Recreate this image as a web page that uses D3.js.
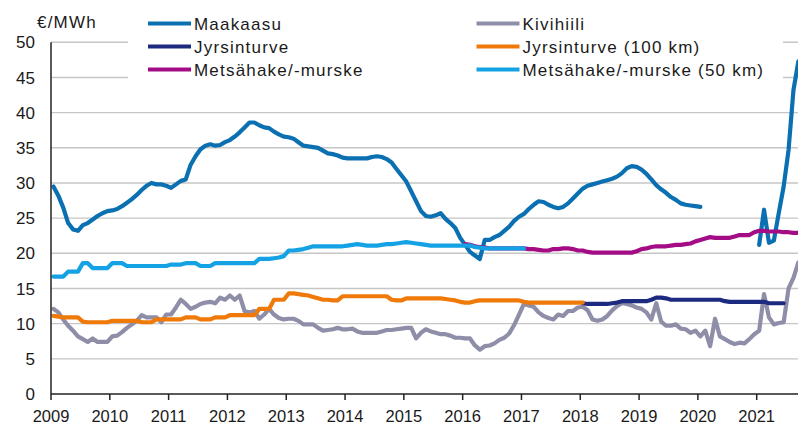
<!DOCTYPE html>
<html>
<head>
<meta charset="utf-8">
<script src="https://cdn.jsdelivr.net/npm/d3@7"></script>
<style>
  body { margin: 0; background: #fff; }
  text { font-family: "Liberation Sans", Arial, sans-serif; fill: #1a1a1a; }
</style>
</head>
<body>
<svg id="chart" width="798" height="424"></svg>
<script>
// years on the x axis, values are monthly from January 2009
var years = [2009, 2010, 2011, 2012, 2013, 2014, 2015, 2016, 2017, 2018, 2019, 2020, 2021];
var yTicks = [0, 5, 10, 15, 20, 25, 30, 35, 40, 45, 50];

var maakaasu = [
  29.5, 28.2, 26.5, 24.3, 23.4, 23.2, 24.0, 24.3, 24.8, 25.3, 25.7, 26.0,
  26.1, 26.3, 26.7, 27.2, 27.7, 28.3, 29.0, 29.6, 30.0, 29.8, 29.8, 29.6,
  29.3, 29.8, 30.3, 30.5, 32.6, 33.8, 34.8, 35.3, 35.5, 35.3, 35.4, 35.8,
  36.1, 36.6, 37.2, 37.9, 38.6, 38.6, 38.2, 37.9, 37.8, 37.3, 36.9, 36.6,
  36.5, 36.3, 35.8, 35.3, 35.2, 35.1, 35.0, 34.6, 34.2, 34.1, 33.9, 33.6,
  33.5, 33.5, 33.5, 33.5, 33.5, 33.7, 33.8, 33.7, 33.4, 32.9, 32.0, 31.1,
  30.2, 28.8, 27.4, 26.0, 25.3, 25.2, 25.4, 25.7, 24.9, 24.3, 23.6, 22.2,
  21.2, 20.2, 19.7, 19.2, 21.9, 21.9, 22.3, 22.6, 23.2, 23.8, 24.6, 25.2,
  25.6, 26.3, 26.9, 27.4, 27.3, 26.9, 26.6, 26.4, 26.6, 27.1, 27.8, 28.5,
  29.2, 29.6, 29.8, 30.0, 30.2, 30.4, 30.6, 30.9, 31.4, 32.1, 32.4, 32.3,
  31.9, 31.3, 30.5, 29.7, 29.1, 28.6, 28.0, 27.6, 27.1, 26.9, 26.8, 26.7,
  26.6, null, null, null, null, null, null, null, null, null, null, null,
  21.2, 26.2, 21.5, 21.8, 25.7, 29.5, 34.7, 43.2, 47.3
];

var kivihiili = [
  12.1, 11.6, 10.6, 9.7, 9.0, 8.2, 7.8, 7.4, 7.9, 7.4, 7.4, 7.4,
  8.2, 8.3, 8.8, 9.4, 9.9, 10.4, 11.2, 10.9, 10.9, 10.9, 10.2, 11.3,
  11.3, 12.3, 13.4, 12.8, 12.1, 12.4, 12.8, 13.0, 13.1, 12.9, 13.7, 13.4,
  14.0, 13.4, 14.0, 11.8, 11.6, 11.8, 10.7, 11.3, 12.1, 11.3, 10.8, 10.6,
  10.7, 10.7, 10.4, 9.9, 9.9, 9.9, 9.4, 9.0, 9.1, 9.2, 9.4, 9.2,
  9.2, 9.3, 8.9, 8.7, 8.7, 8.7, 8.7, 8.9, 9.1, 9.1, 9.2, 9.3,
  9.4, 9.4, 7.9, 8.7, 9.2, 8.9, 8.7, 8.5, 8.5, 8.3, 8.0, 8.0,
  7.9, 7.9, 6.9, 6.3, 6.8, 6.9, 7.2, 7.7, 8.0, 8.6, 9.8, 11.3,
  12.8, 12.6, 12.4, 11.6, 11.1, 10.8, 10.6, 11.3, 11.1, 11.8, 11.8, 12.3,
  12.4, 11.9, 10.6, 10.4, 10.6, 11.1, 11.9, 12.5, 12.9, 12.8, 12.6, 12.3,
  12.1, 11.6, 10.6, 12.9, 10.3, 9.7, 9.7, 9.9, 9.3, 9.2, 8.7, 9.0,
  8.2, 9.0, 6.8, 10.7, 8.2, 7.8, 7.4, 7.1, 7.3, 7.2, 7.8, 8.5,
  9.0, 14.2, 10.9, 9.9, 10.1, 10.2, 15.0, 16.5, 18.7
];

// starts January 2018
var jyrsinturve = [
  12.9, 12.8, 12.8, 12.8, 12.8, 12.8, 12.9, 13.0, 13.2, 13.2, 13.2, 13.2,
  13.2, 13.2, 13.4, 13.7, 13.7, 13.6, 13.4, 13.4, 13.4, 13.4, 13.4, 13.4,
  13.4, 13.4, 13.4, 13.4, 13.4, 13.2, 13.1, 13.1, 13.1, 13.1, 13.1, 13.1,
  13.1, 13.1, 12.9, 12.9, 12.9, 12.9
];

var jyrsinturve100 = [
  11.1, 11.0, 10.9, 10.9, 10.9, 10.9, 10.3, 10.2, 10.2, 10.2, 10.2, 10.2,
  10.4, 10.4, 10.4, 10.4, 10.4, 10.4, 10.2, 10.2, 10.2, 10.6, 10.6, 10.6,
  10.6, 10.6, 10.6, 10.9, 10.9, 10.9, 10.6, 10.6, 10.6, 10.9, 10.9, 10.9,
  11.2, 11.2, 11.2, 11.2, 11.2, 11.2, 12.1, 12.1, 12.1, 13.4, 13.4, 13.4,
  14.3, 14.3, 14.2, 14.1, 14.0, 13.8, 13.6, 13.4, 13.4, 13.3, 13.3, 13.9,
  13.9, 13.9, 13.9, 13.9, 13.9, 13.9, 13.9, 13.9, 13.9, 13.4, 13.3, 13.3,
  13.6, 13.6, 13.6, 13.6, 13.6, 13.6, 13.6, 13.6, 13.5, 13.4, 13.3, 13.1,
  13.0, 13.0, 13.2, 13.3, 13.3, 13.3, 13.3, 13.3, 13.3, 13.3, 13.3, 13.3,
  13.1, 13.0, 13.0, 13.0, 13.0, 13.0, 13.0, 13.0, 13.0, 13.0, 13.0, 13.0,
  13.0
];

// starts January 2016
var metsahake = [
  21.3, 21.2, 21.0, 20.9, 20.8, 20.7, 20.7, 20.7, 20.7, 20.7, 20.7, 20.7,
  20.7, 20.6, 20.6, 20.5, 20.4, 20.4, 20.6, 20.6, 20.7, 20.7, 20.6, 20.4,
  20.4, 20.2, 20.1, 20.1, 20.1, 20.1, 20.1, 20.1, 20.1, 20.1, 20.1, 20.3,
  20.6, 20.7, 20.9, 21.0, 21.0, 21.0, 21.1, 21.2, 21.2, 21.3, 21.4, 21.7,
  21.9, 22.1, 22.3, 22.2, 22.2, 22.2, 22.2, 22.4, 22.6, 22.6, 22.6, 23.0,
  23.2, 23.2, 23.1, 23.1, 23.1, 23.0, 23.0, 22.9, 22.9
];

var metsahake50 = [
  16.7, 16.7, 16.7, 17.4, 17.4, 17.4, 18.6, 18.6, 17.9, 17.9, 17.9, 17.9,
  18.6, 18.6, 18.6, 18.2, 18.2, 18.2, 18.2, 18.2, 18.2, 18.2, 18.2, 18.2,
  18.4, 18.4, 18.4, 18.6, 18.6, 18.6, 18.2, 18.2, 18.2, 18.6, 18.6, 18.6,
  18.6, 18.6, 18.6, 18.6, 18.6, 18.6, 19.2, 19.2, 19.2, 19.3, 19.4, 19.6,
  20.4, 20.4, 20.5, 20.6, 20.8, 21.0, 21.0, 21.0, 21.0, 21.0, 21.0, 21.0,
  21.1, 21.2, 21.3, 21.2, 21.1, 21.1, 21.1, 21.2, 21.3, 21.3, 21.4, 21.5,
  21.6, 21.5, 21.4, 21.3, 21.2, 21.1, 21.1, 21.1, 21.1, 21.1, 21.1, 21.1,
  21.1, 21.1, 20.9, 20.8, 20.7, 20.7, 20.7, 20.7, 20.7, 20.7, 20.7, 20.7,
  20.7
];

//////////////////////////////////////////////////////////////////////////////

var series = [
  { name: "Maakaasu", values: maakaasu, start: 0, color: "#0b70b2" },
  { name: "Kivihiili", values: kivihiili, start: 0, color: "#8e8ea9" },
  { name: "Jyrsinturve", values: jyrsinturve, start: 108, color: "#1c2a80" },
  { name: "Jyrsinturve (100 km)", values: jyrsinturve100, start: 0, color: "#ef7a0a" },
  { name: "Metsähake/-murske", values: metsahake, start: 84, color: "#a40c86" },
  { name: "Metsähake/-murske (50 km)", values: metsahake50, start: 0, color: "#14a2e4" }
];

var svg = d3.select("#chart");

var xScale = d3.scaleLinear()
  .domain([0, 144])
  .range([51, 756.7]);

var yScale = d3.scaleLinear()
  .domain([0, 50])
  .range([394, 42.3]);

// grid lines
svg.append("g")
  .selectAll("line")
  .data(yTicks.slice(1))
  .enter()
  .append("line")
  .attr("x1", xScale(0))
  .attr("x2", 798)
  .attr("y1", function(d) { return yScale(d); })
  .attr("y2", function(d) { return yScale(d); })
  .attr("stroke", "#c6c6c6")
  .attr("stroke-width", 1.4);

// y labels
svg.append("g")
  .selectAll("text")
  .data(yTicks)
  .enter()
  .append("text")
  .attr("x", 35)
  .attr("y", function(d) { return yScale(d); })
  .attr("dy", "0.36em")
  .style("text-anchor", "end")
  .style("font-size", "17px")
  .text(function(d) { return d; });

svg.append("text")
  .attr("x", 37)
  .attr("y", 28)
  .style("font-size", "17px")
  .style("letter-spacing", "1.2px")
  .text("€/MWh");

// lines
var line = d3.line()
  .defined(function(d) { return d.v != null; })
  .x(function(d) { return xScale(d.m + 0.5); })
  .y(function(d) { return yScale(d.v); });

var plot = svg.append("g");

series.forEach(function(s) {
  var pts = s.values.map(function(v, i) {
    return { m: s.start + i, v: v };
  });
  plot.append("path")
    .datum(pts)
    .attr("d", line)
    .attr("fill", "none")
    .attr("stroke", s.color)
    .attr("stroke-width", 4.2)
    .attr("stroke-linejoin", "round")
    .attr("stroke-linecap", "round");
});

// axes
svg.append("line")
  .attr("x1", xScale(0)).attr("x2", xScale(0))
  .attr("y1", yScale(50)).attr("y2", yScale(0))
  .attr("stroke", "#222").attr("stroke-width", 1.5);

svg.append("line")
  .attr("x1", xScale(0)).attr("x2", 798)
  .attr("y1", yScale(0)).attr("y2", yScale(0))
  .attr("stroke", "#222").attr("stroke-width", 1.5);

var xAxis = svg.append("g");

xAxis.selectAll("line")
  .data(years)
  .enter()
  .append("line")
  .attr("x1", function(d, i) { return xScale(i * 12); })
  .attr("x2", function(d, i) { return xScale(i * 12); })
  .attr("y1", yScale(0))
  .attr("y2", yScale(0) + 6)
  .attr("stroke", "#222")
  .attr("stroke-width", 1.5);

xAxis.selectAll("text")
  .data(years)
  .enter()
  .append("text")
  .attr("x", function(d, i) { return xScale(i * 12); })
  .attr("y", 422)
  .style("text-anchor", "middle")
  .style("font-size", "16.5px")
  .text(function(d) { return d; });

// legend, white box covers the top grid lines
svg.append("rect")
  .attr("x", 128).attr("y", 0)
  .attr("width", 655).attr("height", 82)
  .attr("fill", "#fff");

var legend = svg.append("g")
  .selectAll("g")
  .data(series)
  .enter()
  .append("g")
  .attr("transform", function(d, i) {
    var col = i % 2, row = Math.floor(i / 2);
    return "translate(" + (col ? 476.5 : 148) + "," + (23.5 + row * 23) + ")";
  });

legend.append("line")
  .attr("x1", 0).attr("x2", 43)
  .attr("stroke", function(d) { return d.color; })
  .attr("stroke-width", 4);

legend.append("text")
  .attr("x", 46)
  .attr("dy", "0.36em")
  .style("font-size", "17px")
  .style("letter-spacing", "1.2px")
  .text(function(d) { return d.name; });
</script>
</body>
</html>
